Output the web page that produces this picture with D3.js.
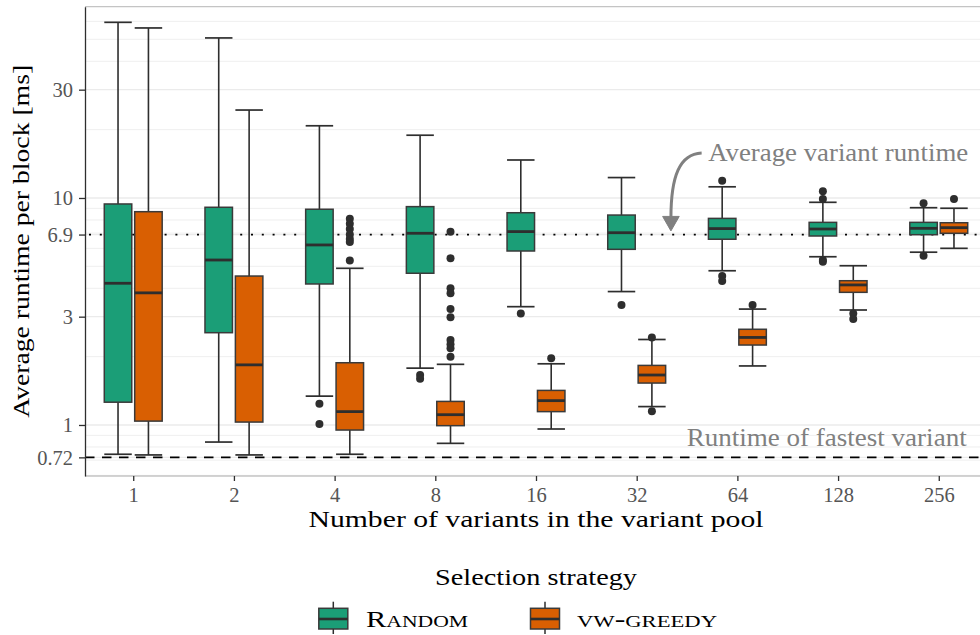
<!DOCTYPE html>
<html><head><meta charset="utf-8">
<script src="https://cdn.jsdelivr.net/npm/d3@7"></script>
<style>body{margin:0;background:#fff} svg{display:block} text{font-family:"Liberation Serif","Times New Roman",serif}</style>
</head><body><svg id="c" width="980" height="635"></svg>
<script>
// ---------- data ----------
const categories = ["1","2","4","8","16","32","64","128","256"];
const strategies = ["Random","vw-greedy"];
const colors = ["#1b9e77","#d95f02"];
// [lower whisker, Q1, median, Q3, upper whisker] per category
const randomStats = [
  [0.743, 1.26, 4.21, 9.41, 59.4],
  [0.841, 2.55, 5.33, 9.10, 50.7],
  [1.34, 4.18, 6.21, 8.92, 20.8],
  [1.78, 4.66, 6.99, 9.16, 18.9],
  [3.32, 5.84, 7.11, 8.61, 14.7],
  [3.87, 5.94, 7.03, 8.41, 12.3],
  [4.78, 6.58, 7.33, 8.13, 11.2],
  [5.51, 6.80, 7.30, 7.81, 9.57],
  [5.77, 6.89, 7.35, 7.81, 9.06]
];
const greedyStats = [
  [0.738, 1.04, 3.82, 8.70, 56.1],
  [0.738, 1.03, 1.84, 4.53, 24.4],
  [0.743, 0.95, 1.145, 1.88, 4.90],
  [0.83, 0.993, 1.11, 1.27, 1.85],
  [0.96, 1.145, 1.28, 1.42, 1.86],
  [1.205, 1.53, 1.66, 1.83, 2.38],
  [1.82, 2.25, 2.43, 2.64, 3.24],
  [3.21, 3.84, 4.14, 4.32, 5.03],
  [6.0, 6.99, 7.40, 7.78, 9.01]
];
const randomOutliers = [[], [], [1.24, 1.01], [1.66, 1.60], [3.10], [3.38], [11.9, 4.53, 4.31], [10.7, 9.9, 5.33, 5.24], [9.48, 5.57]];
const greedyOutliers = [[], [], [8.1, 7.7, 7.3, 6.9, 6.6, 6.4, 5.3], [7.1, 5.42, 4.0, 3.8, 3.24, 2.98, 2.37, 2.27, 2.18, 2.0], [1.97], [2.43, 1.15], [3.38], [3.10, 2.93], [9.9]];
const yTickValues = [0.72, 1, 3, 6.9, 10, 30];
const yTickLabels = ["0.72", "1", "3", "6.9", "10", "30"];
const minorGrid = [0.6, 0.7, 0.8, 0.9, 2, 4, 5, 6, 7, 8, 9, 20, 40, 50, 60];
const averageRuntime = 6.9;
const fastestRuntime = 0.72;

// ---------- layout ----------
const W = 980, H = 635;
const P = {l: 85, r: 987, t: 6.7, b: 476};
const svg = d3.select("#c");
const x = d3.scalePoint().domain(categories).range([P.l, P.r]).padding(0.479);
const y = d3.scaleLog().domain([0.596, 69.6]).range([P.b, P.t]);
const step = x.step();
const xi = i => x(categories[0]) + i * step;
const ink = "#2e2e2e";

// grid
const g = svg.append("g");
g.selectAll("line.minor").data(minorGrid).join("line")
  .attr("x1", P.l).attr("x2", W).attr("y1", d => y(d)).attr("y2", d => y(d))
  .attr("stroke", "#efefef").attr("stroke-width", 1);
g.selectAll("line.major").data(yTickValues).join("line")
  .attr("x1", P.l).attr("x2", W).attr("y1", d => y(d)).attr("y2", d => y(d))
  .attr("stroke", "#ebebeb").attr("stroke-width", 1.3);

// panel border (top/bottom)
svg.append("line").attr("x1", P.l).attr("x2", W).attr("y1", P.t).attr("y2", P.t)
  .attr("stroke", "#c4c4c4").attr("stroke-width", 1.3);
svg.append("line").attr("x1", P.l).attr("x2", W).attr("y1", P.b).attr("y2", P.b)
  .attr("stroke", "#c4c4c4").attr("stroke-width", 1.3);

// reference lines
svg.append("line").attr("x1", P.l + 4).attr("x2", W).attr("y1", y(averageRuntime)).attr("y2", y(averageRuntime))
  .attr("stroke", "#000").attr("stroke-width", 1.7).attr("stroke-dasharray", "2,8.8");
svg.append("line").attr("x1", P.l).attr("x2", W).attr("y1", y(fastestRuntime)).attr("y2", y(fastestRuntime))
  .attr("stroke", "#000").attr("stroke-width", 1.6).attr("stroke-dasharray", "9.5,7.5");

// boxes
const bw = 0.273 * step, off = 0.151 * step;
const series = [
  {stats: randomStats, outl: randomOutliers, color: colors[0], dir: -1},
  {stats: greedyStats, outl: greedyOutliers, color: colors[1], dir: 1}
];
series.forEach(s => {
  const grp = svg.append("g");
  const items = categories.map((c, i) => ({c, st: s.stats[i], out: s.outl[i], cx: x(c) + s.dir * off}));
  const b = grp.selectAll("g").data(items).join("g");
  b.append("line").attr("x1", d => d.cx).attr("x2", d => d.cx)
    .attr("y1", d => y(d.st[0])).attr("y2", d => y(d.st[4]))
    .attr("stroke", ink).attr("stroke-width", 1.6);
  [0, 4].forEach(k => b.append("line")
    .attr("x1", d => d.cx - bw / 2).attr("x2", d => d.cx + bw / 2)
    .attr("y1", d => y(d.st[k])).attr("y2", d => y(d.st[k]))
    .attr("stroke", ink).attr("stroke-width", 1.7));
  b.append("rect").attr("x", d => d.cx - bw / 2).attr("width", bw)
    .attr("y", d => y(d.st[3])).attr("height", d => y(d.st[1]) - y(d.st[3]))
    .attr("fill", s.color).attr("stroke", "#3a3a3a").attr("stroke-width", 1.5);
  b.append("line").attr("x1", d => d.cx - bw / 2).attr("x2", d => d.cx + bw / 2)
    .attr("y1", d => y(d.st[2])).attr("y2", d => y(d.st[2]))
    .attr("stroke", ink).attr("stroke-width", 2.8);
  b.selectAll("circle").data(d => d.out.map(v => ({v, cx: d.cx}))).join("circle")
    .attr("cx", d => d.cx).attr("cy", d => y(d.v)).attr("r", 4).attr("fill", ink);
});

// axes
const yAxis = svg.append("g").attr("transform", `translate(${P.l},0)`)
  .call(d3.axisLeft(y).tickValues(yTickValues).tickFormat((d, i) => yTickLabels[i]).tickSize(6).tickPadding(6).tickSizeOuter(0));
yAxis.select(".domain").attr("stroke", ink).attr("stroke-width", 1.3);
yAxis.selectAll(".tick line").attr("stroke", ink).attr("stroke-width", 1.3);
yAxis.selectAll(".tick text").attr("fill", "#555").attr("font-size", 20.5)
  .attr("font-family", '"Liberation Serif",serif').attr("dy", "0.33em");

const xAxis = svg.append("g").attr("transform", `translate(0,${P.b})`)
  .call(d3.axisBottom(x).tickSize(5).tickPadding(6));
xAxis.select(".domain").remove();
xAxis.selectAll(".tick line").attr("stroke", ink).attr("stroke-width", 1.3);
xAxis.selectAll(".tick text").attr("fill", "#555").attr("font-size", 20.5)
  .attr("font-family", '"Liberation Serif",serif');

// axis titles
svg.append("text").attr("x", (P.l + P.r) / 2).attr("y", 527).attr("text-anchor", "middle")
  .attr("font-size", 22.5).attr("textLength", 455).attr("lengthAdjust", "spacingAndGlyphs")
  .text("Number of variants in the variant pool");
svg.append("text").attr("transform", `translate(29,${(P.t + P.b) / 2}) rotate(-90)`).attr("text-anchor", "middle")
  .attr("font-size", 22.5).attr("textLength", 353).attr("lengthAdjust", "spacingAndGlyphs")
  .text("Average runtime per block [ms]");

// annotations
const annColor = "#808080";
const tip = [xi(5.34), y(7.16)];
const start = [xi(5.645), y(15.8)];
const arrowPath = d3.path();
arrowPath.moveTo(start[0], start[1]);
arrowPath.bezierCurveTo(start[0] - 22, start[1] + 1, tip[0], tip[1] - 55, tip[0], tip[1] - 13);
svg.append("path").attr("d", arrowPath.toString()).attr("fill", "none")
  .attr("stroke", annColor).attr("stroke-width", 3);
svg.append("path")
  .attr("d", `M${tip[0]},${tip[1]} L${tip[0] - 8.3},${tip[1] - 14.5} L${tip[0] + 8.3},${tip[1] - 14.5} Z`)
  .attr("fill", annColor).attr("stroke", annColor).attr("stroke-width", 1);
svg.append("text").attr("x", xi(5.71)).attr("y", y(14.6)).attr("font-size", 24.5).attr("fill", annColor)
  .attr("textLength", 260).attr("lengthAdjust", "spacingAndGlyphs").text("Average variant runtime");
svg.append("text").attr("x", xi(8.277)).attr("y", y(0.811)).attr("text-anchor", "end").attr("font-size", 24.5).attr("fill", annColor)
  .attr("textLength", 280).attr("lengthAdjust", "spacingAndGlyphs").text("Runtime of fastest variant");

// legend
svg.append("text").attr("x", (P.l + P.r) / 2).attr("y", 585).attr("text-anchor", "middle")
  .attr("font-size", 22.5).attr("textLength", 202).attr("lengthAdjust", "spacingAndGlyphs").text("Selection strategy");
const legItems = [
  {label: strategies[0], color: colors[0], kx: 333.3, lx: 366, lw: 102},
  {label: strategies[1], color: colors[1], kx: 545, lx: 577, lw: 140}
];
const lg = svg.append("g").selectAll("g").data(legItems).join("g");
lg.append("line").attr("x1", d => d.kx).attr("x2", d => d.kx).attr("y1", 601.7).attr("y2", 634)
  .attr("stroke", ink).attr("stroke-width", 1.5);
lg.append("rect").attr("x", d => d.kx - 14.5).attr("width", 29).attr("y", 608.3).attr("height", 20.7)
  .attr("fill", d => d.color).attr("stroke", "#3a3a3a").attr("stroke-width", 1.5);
lg.append("line").attr("x1", d => d.kx - 14.5).attr("x2", d => d.kx + 14.5).attr("y1", 619).attr("y2", 619)
  .attr("stroke", ink).attr("stroke-width", 2.6);
lg.append("text").attr("x", d => d.lx).attr("y", 627).attr("font-size", 22.5)
  .style("font-variant", "small-caps").attr("textLength", d => d.lw).attr("lengthAdjust", "spacingAndGlyphs")
  .text(d => d.label);
</script></body></html>
